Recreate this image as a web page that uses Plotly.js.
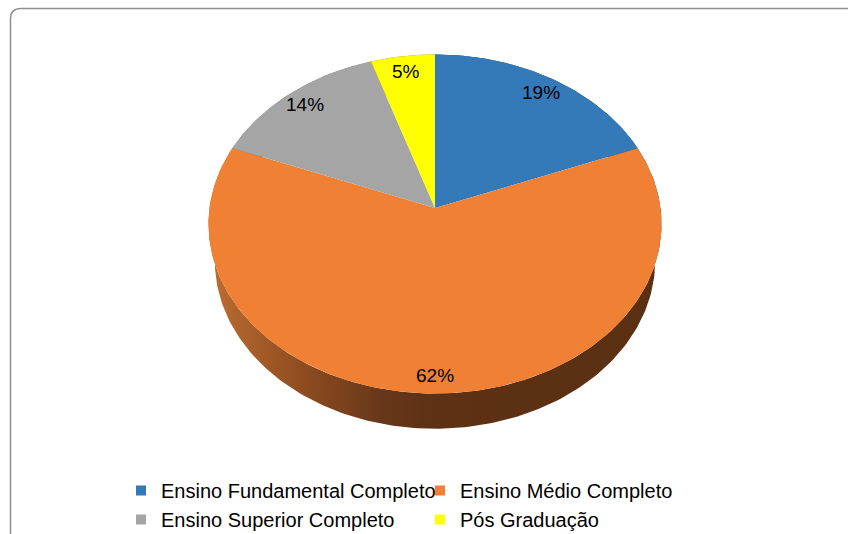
<!DOCTYPE html>
<html>
<head>
<meta charset="utf-8">
<script src="https://cdn.plot.ly/plotly-3.0.1.min.js"></script>
<style>html,body{margin:0;padding:0;background:#fff;}#chart{width:848px;height:534px;}</style>
</head>
<body>
<div id="chart"></div>
<script>
// ---- data ----
const categories = ['Ensino Fundamental Completo', 'Ensino Médio Completo', 'Ensino Superior Completo', 'Pós Graduação'];
const values = [19, 62, 14, 5];

// ---- styles ----
const topColors = ['#3479b8', '#f08034', '#a5a5a5', '#ffff00'];
const sideScales = [
  [[0, '#1f4a72'], [1, '#163552']],
  [[0, '#bd6d31'], [0.2, '#8f4d20'], [0.38, '#68371a'], [0.5, '#5e3114'], [1, '#5a2f12']],
  [[0, '#6a6a6a'], [1, '#555555']],
  [[0, '#9a9a00'], [1, '#7a7a00']]
];

// ---- 3D pie geometry (perspective projection to pixel space) ----
const G = {cx: 435, cy: 208, fx: 1565, fy: 1545, D: 6.94, phi: 49 * Math.PI / 180, h: 0.261};
function proj(thetaDeg, r, z) {
  const t = thetaDeg * Math.PI / 180;
  const X = r * Math.sin(t), Y = r * Math.cos(t), Z = z;
  const v = Y * Math.sin(G.phi) + Z * Math.cos(G.phi);
  const w = Y * Math.cos(G.phi) - Z * Math.sin(G.phi);
  return [G.cx + X * G.fx / (G.D + w), G.cy - v * G.fy / (G.D + w)];
}
function arc(a0, a1, z) {
  const pts = [];
  const n = Math.max(2, Math.ceil(Math.abs(a1 - a0)));
  for (let i = 0; i <= n; i++) pts.push(proj(a0 + (a1 - a0) * i / n, 1, z));
  return pts;
}

const total = values.reduce((a, b) => a + b, 0);
const slices = [];
let cum = 0;
values.forEach((v, i) => {
  const a0 = 360 * cum / total;
  cum += v;
  const a1 = 360 * cum / total;
  slices.push({a0, a1, i});
});

const traces = [];
// side walls first
slices.forEach(s => {
  const top = arc(s.a0, s.a1, 0);
  const bot = arc(s.a1, s.a0, -G.h);
  const pts = top.concat(bot);
  pts.push(pts[0]);
  traces.push({
    type: 'scatter', mode: 'lines', x: pts.map(p => p[0]), y: pts.map(p => p[1]),
    fill: 'toself', line: {width: 0, color: 'rgba(0,0,0,0)'},
    fillcolor: sideScales[s.i][0][1],
    fillgradient: {type: 'horizontal', start: 210, stop: 660, colorscale: sideScales[s.i]},
    showlegend: false, hoverinfo: 'skip'
  });
});
// top faces
slices.forEach(s => {
  const c = proj(0, 0, 0);
  const pts = [c].concat(arc(s.a0, s.a1, 0));
  pts.push(c);
  traces.push({
    type: 'scatter', mode: 'lines', x: pts.map(p => p[0]), y: pts.map(p => p[1]),
    fill: 'toself', line: {width: 0, color: 'rgba(0,0,0,0)'},
    fillcolor: topColors[s.i], showlegend: false, hoverinfo: 'skip'
  });
});
// legend entries
categories.forEach((name, i) => {
  traces.push({
    type: 'scatter', mode: 'markers', x: [null], y: [null], name: name,
    marker: {symbol: 'square', size: 10, color: topColors[i]}, showlegend: true
  });
});

// percentage labels
const annotations = slices.map(s => {
  const mid = (s.a0 + s.a1) / 2;
  const c = proj(0, 0, 0), rim = proj(mid, 1, 0);
  const fr = 0.9;
  return {
    x: c[0] + fr * (rim[0] - c[0]), y: c[1] + fr * (rim[1] - c[1]),
    xref: 'x', yref: 'y', showarrow: false,
    text: Math.round(values[s.i] / total * 100) + '%',
    font: {family: 'Liberation Sans, Arial, sans-serif', size: 19, color: '#000'}
  };
});

const layout = {
  width: 848, height: 534,
  margin: {l: 0, r: 0, t: 0, b: 0, autoexpand: false},
  paper_bgcolor: '#fff', plot_bgcolor: '#fff',
  xaxis: {range: [0, 848], visible: false, fixedrange: true},
  yaxis: {range: [534, 0], visible: false, fixedrange: true},
  showlegend: true,
  legend: {
    orientation: 'h', x: 121 / 848, xanchor: 'left', y: 1 - 471 / 534, yanchor: 'top',
    entrywidth: 254, entrywidthmode: 'pixels',
    font: {family: 'Liberation Sans, Arial, sans-serif', size: 20, color: '#000'},
    bgcolor: 'rgba(0,0,0,0)', borderwidth: 0
  },
  annotations: annotations,
  shapes: [{
    type: 'path', xref: 'x', yref: 'y',
    path: 'M 10.5 545 L 10.5 19 Q 10.5 8.5 21 8.5 L 860 8.5',
    line: {color: '#8f8f8f', width: 1.5}
  }],
  hovermode: false
};

Plotly.newPlot('chart', traces, layout, {displayModeBar: false, staticPlot: true});
</script>
</body>
</html>
